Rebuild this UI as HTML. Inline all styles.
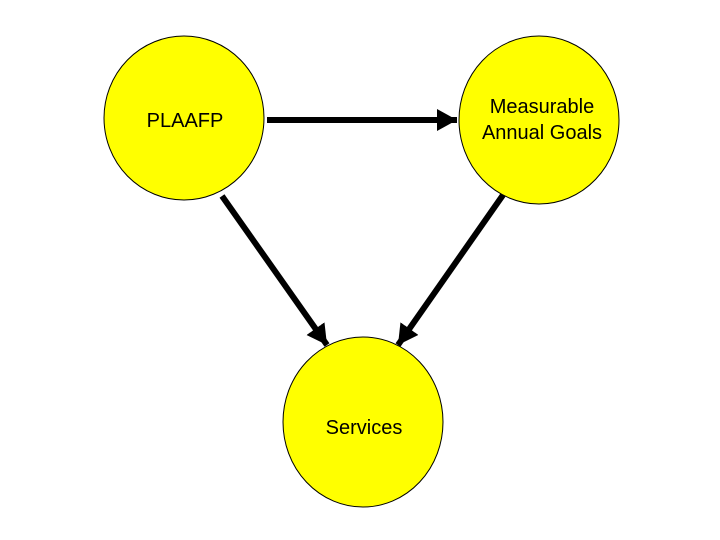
<!DOCTYPE html>
<html><head><style>body{margin:0;background:#fff}svg{display:block}</style></head><body>
<svg width="720" height="540" xmlns="http://www.w3.org/2000/svg">
<defs><marker id="a" markerUnits="userSpaceOnUse" markerWidth="22" markerHeight="22" refX="20" refY="11" orient="auto"><path d="M0,0 L20,11 L0,22 Z" fill="#000"/></marker></defs>
<ellipse cx="184" cy="118" rx="80" ry="82" fill="#ffff00" stroke="#000" stroke-width="1"/>
<ellipse cx="539" cy="120" rx="80" ry="84" fill="#ffff00" stroke="#000" stroke-width="1"/>
<ellipse cx="363" cy="422" rx="80" ry="85" fill="#ffff00" stroke="#000" stroke-width="1"/>
<line x1="267" y1="120" x2="457" y2="120" stroke="#000" stroke-width="6" marker-end="url(#a)"/>
<line x1="222" y1="196" x2="327" y2="345" stroke="#000" stroke-width="6" marker-end="url(#a)"/>
<line x1="503" y1="195" x2="398" y2="345" stroke="#000" stroke-width="6" marker-end="url(#a)"/>
<g font-family="Liberation Sans, sans-serif" font-size="20" fill="#000">
<text x="185" y="127" text-anchor="middle">PLAAFP</text>
<text x="542" y="113" text-anchor="middle">Measurable</text>
<text x="542" y="139" text-anchor="middle">Annual Goals</text>
<text x="364" y="434" text-anchor="middle">Services</text>
</g>
</svg>
</body></html>
